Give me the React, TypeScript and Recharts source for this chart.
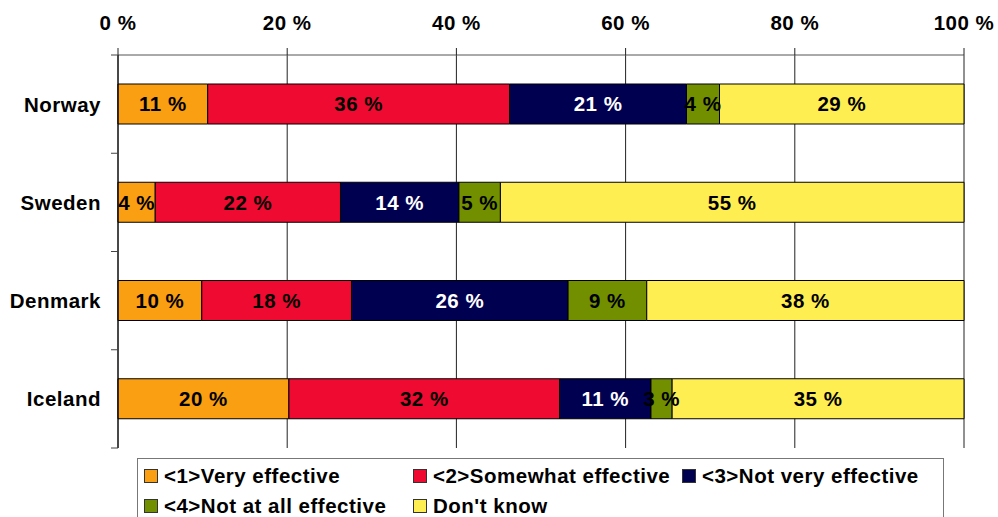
import React from 'react';
import { BarChart, Bar, XAxis, YAxis, CartesianGrid, Legend, LabelList } from 'recharts';

const countries = ['Norway', 'Sweden', 'Denmark', 'Iceland'];
const veryEffective = [10.6, 4.4, 9.9, 20.2];
const somewhatEffective = [35.7, 21.9, 17.7, 32.0];
const notVeryEffective = [20.9, 14.0, 25.6, 10.8];
const notAtAllEffective = [3.9, 4.9, 9.3, 2.5];
const dontKnow = [28.9, 54.8, 37.5, 34.5];
const xTicks = [0, 20, 40, 60, 80, 100];

const seriesNames = ['<1>Very effective', '<2>Somewhat effective', '<3>Not very effective', '<4>Not at all effective', "Don't know"];
const seriesKeys = ['s1', 's2', 's3', 's4', 's5'];
const seriesColors = ['#FA9E12', '#EE0A30', '#000050', '#728F00', '#FFEE52'];
const labelColors = ['#000', '#000', '#fff', '#000', '#000'];
const seriesValues = [veryEffective, somewhatEffective, notVeryEffective, notAtAllEffective, dontKnow];

const data = countries.map((c, i) => {
  const row: any = { country: c };
  seriesKeys.forEach((k, j) => { row[k] = seriesValues[j][i]; });
  return row;
});

const FONT = '"Liberation Sans", Arial, sans-serif';
const FS = 20.5;
const LS = 0.5;
const YAXIS_W = 118;

const YTick = (props: any) => {
  const { x, y, payload, index } = props;
  const half = payload && payload.offset ? payload.offset : 49;
  return (
    <g>
      <text x={x} y={y} dy="0.36em" textAnchor="end" fontFamily={FONT} fontWeight="bold" fontSize={FS}
        letterSpacing={LS} fill="#000">
        {payload.value}
      </text>
      {index === 0 && <line x1={YAXIS_W - 7} x2={YAXIS_W} y1={y - half} y2={y - half} stroke="#444" />}
      <line x1={YAXIS_W - 7} x2={YAXIS_W} y1={y + half} y2={y + half} stroke="#444" />
    </g>
  );
};

const makeLabel = (color: string) => (props: any) => {
  const { x, y, width, height, value } = props;
  return (
    <text x={x + width / 2} y={y + height / 2} dy="0.36em" textAnchor="middle" fill={color}
      fontFamily={FONT} fontWeight="bold" fontSize={FS} letterSpacing={LS}>
      {Math.round(value)} %
    </text>
  );
};

const LegendContent = () => (
  <div style={{
    boxSizing: 'border-box', width: 807, height: 64, border: '1px solid #777', background: '#fff',
    display: 'grid', gridTemplateColumns: '269px 269px 269px', padding: '2px 0 0 6px', rowGap: 0,
    fontFamily: FONT, fontWeight: 'bold', fontSize: FS, letterSpacing: LS, color: '#000',
  }}>
    {seriesNames.map((n, i) => (
      <div key={n} style={{ display: 'flex', alignItems: 'center', height: 30, whiteSpace: 'nowrap' }}>
        <span style={{ display: 'inline-block', boxSizing: 'border-box', width: 14, height: 14, background: seriesColors[i], border: '1px solid #333', marginRight: 6 }} />
        <span>{n}</span>
      </div>
    ))}
  </div>
);

export default function App() {
  return (
    <div style={{ position: 'absolute', left: 0, top: 0, width: 998, height: 517, overflow: 'hidden', background: '#fff' }}>
      <BarChart width={998} height={517} data={data} layout="vertical"
        margin={{ top: 0, right: 34, left: 0, bottom: 5 }}>
        <CartesianGrid horizontal={false} stroke="#222" />
        <XAxis type="number" orientation="top" domain={[0, 100]} ticks={xTicks} interval={0}
          height={55} tickSize={7} tickMargin={18} tickFormatter={(v: number) => `${v} %`}
          axisLine={{ stroke: '#555' }} tickLine={{ stroke: '#222' }}
          tick={{ fontFamily: FONT, fontWeight: 'bold', fontSize: FS, fill: '#000', letterSpacing: LS }} />
        <YAxis type="category" dataKey="country" width={YAXIS_W} tickLine={false} tickSize={7} tickMargin={10}
          axisLine={{ stroke: '#000' }} tick={<YTick />} />
        <Legend verticalAlign="bottom" content={<LegendContent />}
          wrapperStyle={{ left: 137, top: 458, bottom: 'auto', width: 807, height: 64 }} />
        {seriesKeys.map((k, i) => (
          <Bar key={k} dataKey={k} name={seriesNames[i]} stackId="a" fill={seriesColors[i]} stroke="#000"
            strokeWidth={1} barSize={40} isAnimationActive={false}>
            <LabelList dataKey={k} content={makeLabel(labelColors[i])} />
          </Bar>
        ))}
      </BarChart>
    </div>
  );
}
